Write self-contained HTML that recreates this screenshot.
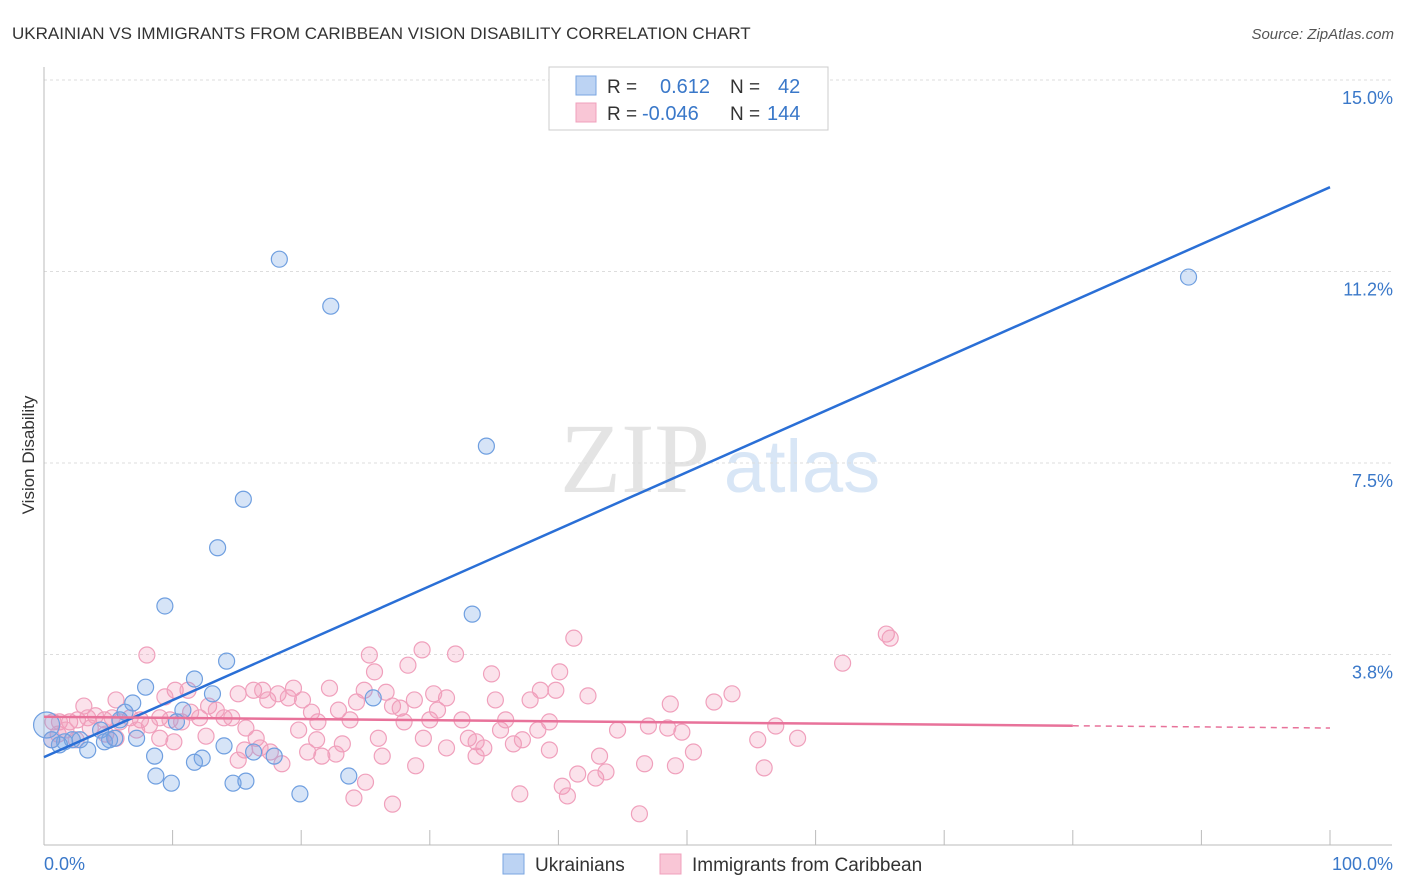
<!DOCTYPE html>
<html><head><meta charset="utf-8"><style>
body{margin:0;background:#fff;font-family:"Liberation Sans",sans-serif}
svg{display:block}
</style></head><body>
<svg id="chart" width="1406" height="892" xmlns="http://www.w3.org/2000/svg">
<text x="12" y="39" font-size="17" fill="#333">UKRAINIAN VS IMMIGRANTS FROM CARIBBEAN VISION DISABILITY CORRELATION CHART</text>
<text x="1394" y="39" font-size="15" fill="#555" font-style="italic" text-anchor="end">Source: ZipAtlas.com</text>
<text x="34" y="455" font-size="17" fill="#333" text-anchor="middle" transform="rotate(-90 34 455)">Vision Disability</text>
<g><text x="635" y="492" font-size="100" fill="#e4e4e4" font-family="Liberation Serif,serif" text-anchor="middle">ZIP</text><text x="802" y="492" font-size="74" fill="#d8e6f6" text-anchor="middle">atlas</text></g>
<g id="grid"></g><g id="axes"></g><g id="pts"></g><g id="lines"></g>
<g>
<rect x="549" y="67" width="279" height="63" fill="#fff" stroke="#ccc"/>
<rect x="576" y="76" width="20" height="19" fill="#bcd3f3" stroke="#7aa6e0"/>
<rect x="576" y="103" width="20" height="19" fill="#f9c6d6" stroke="#f0a0bc"/>
<text x="607" y="93" font-size="19" fill="#333">R =</text><text x="660" y="93" font-size="20" fill="#3a78c9">0.612</text>
<text x="730" y="93" font-size="19" fill="#333">N =</text><text x="778" y="93" font-size="20" fill="#3a78c9">42</text>
<text x="607" y="120" font-size="19" fill="#333">R =</text><text x="642" y="120" font-size="20" fill="#3a78c9">-0.046</text>
<text x="730" y="120" font-size="19" fill="#333">N =</text><text x="767" y="120" font-size="20" fill="#3a78c9">144</text>
</g>
<g>
<rect x="503" y="854" width="21" height="20" fill="#bcd3f3" stroke="#7aa6e0"/>
<text x="535" y="871" font-size="19" fill="#333">Ukrainians</text>
<rect x="660" y="854" width="21" height="20" fill="#f9c6d6" stroke="#f0a0bc"/>
<text x="692" y="871" font-size="19" fill="#333">Immigrants from Caribbean</text>
</g>
</svg>
<script>
const yTicks=[3.8,7.5,11.2,15.0];
const yTickVals=[3.75,7.5,11.25,15];
const xTickLabels=["0.0%","100.0%"];
const blueX=[18.3,22.3,89.0,34.4,15.5,13.5,9.4,33.3,14.2,11.7,7.9,13.1,25.6,10.8,6.9,6.3,10.3,5.9,7.2,4.4,5.1,4.7,3.4,2.2,1.6,1.2,0.6,0.2,8.6,14.0,16.3,17.9,12.3,11.7,8.7,9.9,14.7,15.7,23.7,19.9,2.8,5.5];
const blueY=[11.49,10.57,11.14,7.83,6.79,5.84,4.70,4.54,3.62,3.27,3.11,2.98,2.90,2.66,2.80,2.62,2.43,2.47,2.11,2.27,2.08,2.04,1.88,2.08,2.04,1.98,2.08,2.37,1.76,1.96,1.84,1.76,1.72,1.64,1.37,1.23,1.23,1.27,1.37,1.02,2.08,2.11];
const pinkX=[8.0,10.2,11.2,9.4,5.6,3.1,0.7,1.2,2.0,2.6,3.4,4.0,4.7,5.3,5.9,6.7,7.5,8.2,9.0,9.8,10.7,11.4,12.1,12.8,13.4,14.0,14.6,15.1,15.7,16.3,17.0,17.4,18.2,19.0,19.4,20.1,20.8,21.3,22.2,22.9,23.8,24.3,24.9,25.3,25.7,26.6,27.1,27.7,28.3,28.8,29.4,30.0,30.6,31.3,32.0,32.5,33.0,33.6,34.2,34.8,35.5,35.9,36.5,37.2,37.8,38.4,38.6,39.3,39.8,40.1,41.2,41.5,42.3,42.9,43.7,44.6,46.3,46.7,47.0,48.5,48.7,49.1,49.6,50.5,52.1,53.5,55.5,56.0,56.9,58.6,62.1,65.5,65.8,0.6,1.1,1.7,2.5,3.6,4.8,5.6,7.2,9.0,10.1,12.6,15.1,15.6,16.5,17.6,18.5,19.8,20.5,21.2,21.6,22.7,23.2,24.1,25.0,26.0,26.3,27.1,28.0,28.9,29.5,31.3,33.6,37.0,40.3,40.7,39.3,43.2,35.1,30.3,16.8];
const pinkY=[3.74,3.05,3.05,2.92,2.86,2.74,2.43,2.43,2.43,2.47,2.51,2.55,2.47,2.51,2.43,2.51,2.47,2.37,2.51,2.47,2.43,2.62,2.51,2.74,2.66,2.51,2.51,2.98,2.31,3.05,3.05,2.86,2.98,2.90,3.09,2.86,2.62,2.43,3.09,2.66,2.47,2.82,3.05,3.74,3.41,3.01,2.74,2.70,3.54,2.86,3.84,2.47,2.66,2.90,3.76,2.47,2.11,2.04,1.92,3.37,2.27,2.47,2.00,2.08,2.86,2.27,3.05,1.88,3.05,3.41,4.07,1.41,2.94,1.33,1.45,2.27,0.63,1.61,2.35,2.31,2.78,1.57,2.23,1.84,2.82,2.98,2.08,1.53,2.35,2.11,3.58,4.15,4.07,2.08,2.19,2.27,2.08,2.31,2.19,2.11,2.27,2.11,2.04,2.15,1.68,1.88,2.11,1.84,1.61,2.27,1.84,2.08,1.76,1.80,2.00,0.94,1.25,2.11,1.76,0.82,2.43,1.57,2.11,1.92,1.76,1.02,1.17,0.98,2.43,1.76,2.86,2.98,1.92];
const blueTrend=[1.74,12.9];
const pinkTrend=[2.53,2.31];
const X0=44,X1=1330,Y0=846,PXY=51.07;
const sx=v=>X0+(X1-X0)*v/100, sy=v=>Y0-v*PXY;
const NS="http://www.w3.org/2000/svg";
function mk(tag,attrs,parent){const e=document.createElementNS(NS,tag);for(const k in attrs)e.setAttribute(k,attrs[k]);document.getElementById(parent).appendChild(e);return e;}
yTickVals.forEach((v,i)=>{
 const l=mk('line',{x1:44,x2:1392,y1:sy(v),y2:sy(v),stroke:'#ddd','stroke-dasharray':'3,3'},'grid');
 
 
 const t=mk('text',{x:1393,y:sy(v)+24,'font-size':18,fill:'#3a78c9','text-anchor':'end'},'grid');
 t.textContent=yTicks[i].toFixed(1)+'%';
 
 
});
const ax=mk('line',{x1:44,x2:1392,y1:845,y2:845,stroke:'#bbb'},'axes');


const ay=mk('line',{x1:44,x2:44,y1:67,y2:845,stroke:'#bbb'},'axes');


for(let i=0;i<=10;i++){const t=mk('line',{x1:sx(i*10),x2:sx(i*10),y1:830,y2:845,stroke:'#bbb'},'axes');
 
 }
const xl0=mk('text',{x:44,y:870,'font-size':18,fill:'#3a78c9'},'axes');xl0.textContent=xTickLabels[0];


const xl1=mk('text',{x:1393,y:870,'font-size':18,fill:'#3a78c9','text-anchor':'end'},'axes');xl1.textContent=xTickLabels[1];


pinkX.forEach((x,i)=>{const c=mk('circle',{cx:sx(x),cy:sy(pinkY[i]),r:8,fill:'rgba(242,150,182,0.28)',stroke:'#f0a0bc','stroke-width':1.2},'pts');
 
 });
blueX.forEach((x,i)=>{const c=mk('circle',{cx:sx(x),cy:sy(blueY[i]),r:(i==27?13:8),fill:'rgba(120,165,230,0.3)',stroke:'#6f9fe0','stroke-width':1.2},'pts');
 
 });
const bl=mk('line',{x1:sx(0),y1:sy(blueTrend[0]),x2:sx(100),y2:sy(blueTrend[1]),stroke:'#2a6fd6','stroke-width':2.5},'lines');


const py=v=>pinkTrend[0]+(pinkTrend[1]-pinkTrend[0])*v/100;
const pl=mk('line',{x1:sx(0),y1:sy(py(0)),x2:sx(80),y2:sy(py(80)),stroke:'#e8729a','stroke-width':2.5},'lines');


const pd=mk('line',{x1:sx(80),y1:sy(py(80)),x2:sx(100),y2:sy(py(100)),stroke:'#e8729a','stroke-width':1.5,'stroke-dasharray':'6,5'},'lines');


</script>
</body></html>
